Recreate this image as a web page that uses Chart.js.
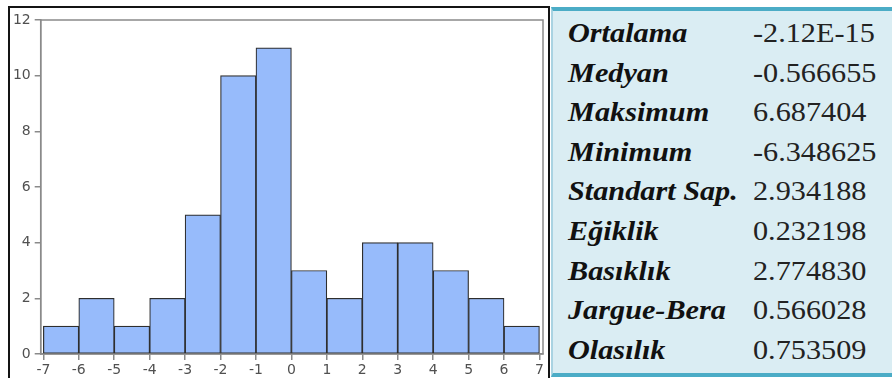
<!DOCTYPE html>
<html lang="tr">
<head>
<meta charset="utf-8">
<title>Histogram ve tanımlayıcı istatistikler</title>
<script src="https://cdn.jsdelivr.net/npm/chart.js@4.4.1/dist/chart.umd.min.js"></script>
<style>
  html, body {
    margin: 0;
    padding: 0;
    width: 892px;
    height: 378px;
    overflow: hidden;
    background: #ffffff;
  }
  #chart-box {
    position: absolute;
    left: 0;
    top: 0;
    width: 550px;
    height: 378px;
  }
  #chart-frame {
    position: absolute;
    left: 8px;
    top: 6px;
    width: 538px;
    height: 380px;
    border: 2px solid #141414;
    border-bottom: none;
    pointer-events: none;
  }
  #stats {
    position: absolute;
    left: 551px;
    top: 7px;
    width: 341px;
    height: 370px;
    background: #daedf3;
    border-top: 4px solid #4bacc6;
    border-bottom: 4px solid #4bacc6;
    border-left: 2px solid #a9d3e2;
    box-sizing: border-box;
  }
  .stat-row {
    position: absolute;
    left: 0;
    width: 100%;
    height: 40px;
    font-family: "Liberation Serif", "Times New Roman", serif;
    font-size: 28px;
    line-height: 40px;
  }
  .stat-label, .stat-value {
    position: absolute;
    transform: scaleX(1.08);
    transform-origin: left center;
    white-space: nowrap;
  }
  .stat-label {
    left: 15px;
    font-weight: bold;
    font-style: italic;
    color: #111111;
  }
  .stat-value {
    left: 200px;
    color: #222222;
  }
</style>
</head>
<body>
<div id="chart-box"><canvas id="histogram"></canvas></div>
<div id="chart-frame"></div>
<div id="stats"></div>

<script>
// Données de l'histogramme : bornes des classes et effectifs
const binEdges = [-7, -6, -5, -4, -3, -2, -1, 0, 1, 2, 3, 4, 5, 6, 7];
const binCounts = [1, 2, 1, 2, 5, 10, 11, 3, 2, 4, 4, 3, 2, 1];

// Graduations des axes
const xTickValues = [-7, -6, -5, -4, -3, -2, -1, 0, 1, 2, 3, 4, 5, 6, 7];
const yTickValues = [0, 2, 4, 6, 8, 10, 12];

// Tableau des statistiques descriptives
const statLabels = ["Ortalama", "Medyan", "Maksimum", "Minimum", "Standart Sap.",
  "Eğiklik", "Basıklık", "Jargue-Bera", "Olasılık"];
const statValues = ["-2.12E-15", "-0.566655", "6.687404", "-6.348625", "2.934188",
  "0.232198", "2.774830", "0.566028", "0.753509"];

// Cadre gris autour de la zone de tracé
const plotFrame = {
  id: 'plotFrame',
  beforeDatasetsDraw(chart) {
    const area = chart.chartArea;
    const ctx = chart.ctx;
    ctx.save();
    ctx.strokeStyle = '#8a8a8a';
    ctx.lineWidth = 1.5;
    ctx.strokeRect(area.left, area.top, area.right - area.left, area.bottom - area.top);
    ctx.restore();
  }
};

const tickFont = { family: '"DejaVu Sans", Arial, sans-serif', size: 14 };

function buildHistogram() {
  const ctx = document.getElementById('histogram').getContext('2d');
  const points = binCounts.map((count, i) => ({
    x: (binEdges[i] + binEdges[i + 1]) / 2,
    y: count
  }));

  new Chart(ctx, {
    type: 'bar',
    data: {
      datasets: [{
        data: points,
        backgroundColor: '#97bbfb',
        borderColor: '#2e2e2e',
        borderWidth: 1.2,
        borderSkipped: false,
        barPercentage: 1,
        categoryPercentage: 1
      }]
    },
    options: {
      responsive: true,
      maintainAspectRatio: false,
      animation: false,
      layout: {
        padding: { left: 9, top: 20, right: 7, bottom: 0 }
      },
      plugins: {
        legend: { display: false },
        tooltip: { enabled: false }
      },
      scales: {
        x: {
          type: 'linear',
          offset: false,
          min: -7.075,
          max: 7.1,
          afterBuildTicks: scale => {
            scale.ticks = xTickValues.map(v => ({ value: v }));
          },
          afterFit: scale => {
            scale.height = 24;
          },
          grid: {
            offset: false,
            drawOnChartArea: false,
            drawTicks: true,
            tickLength: 6,
            color: '#8a8a8a',
            lineWidth: 1.5
          },
          border: { display: true, color: '#8a8a8a', width: 1.5 },
          ticks: {
            padding: 2,
            maxRotation: 0,
            autoSkip: false,
            color: '#505050',
            font: tickFont
          }
        },
        y: {
          min: 0,
          max: 12,
          afterBuildTicks: scale => {
            scale.ticks = yTickValues.map(v => ({ value: v }));
          },
          afterFit: scale => {
            scale.width = 31.7;
          },
          grid: {
            drawOnChartArea: false,
            drawTicks: true,
            tickLength: 6,
            color: '#8a8a8a',
            lineWidth: 1.5
          },
          border: { display: true, color: '#8a8a8a', width: 1.5 },
          ticks: {
            padding: 4,
            color: '#505050',
            font: tickFont
          }
        }
      }
    },
    plugins: [plotFrame]
  });
}

// Remplit le tableau des statistiques
function buildStats() {
  const box = document.getElementById('stats');
  statLabels.forEach((label, i) => {
    const row = document.createElement('div');
    row.className = 'stat-row';
    row.style.top = (2 + i * 39.6) + 'px';

    const name = document.createElement('span');
    name.className = 'stat-label';
    name.textContent = label;

    const value = document.createElement('span');
    value.className = 'stat-value';
    value.textContent = statValues[i];

    row.appendChild(name);
    row.appendChild(value);
    box.appendChild(row);
  });
}

window.addEventListener('DOMContentLoaded', () => {
  buildHistogram();
  buildStats();
});
</script>
</body>
</html>
